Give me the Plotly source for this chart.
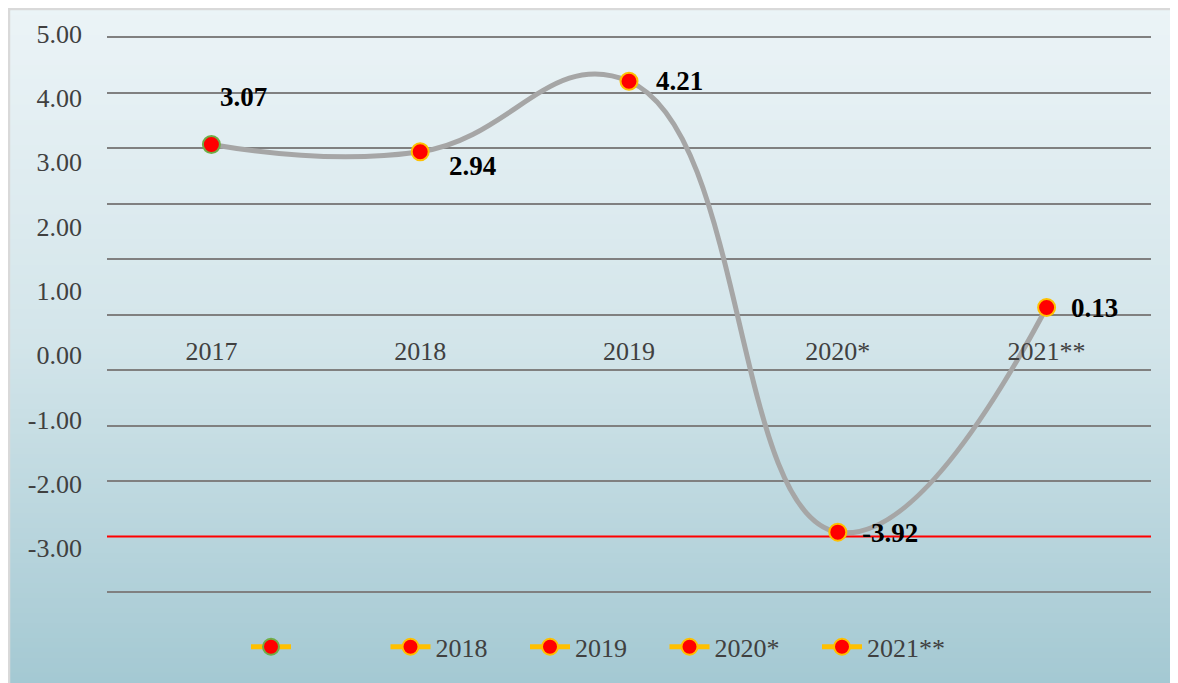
import plotly.graph_objects as go

# ---------------- data ----------------
categories = ["2017", "2018", "2019", "2020*", "2021**"]
values = [3.07, 2.94, 4.21, -3.92, 0.13]
legend_names = ["", "2018", "2019", "2020*", "2021**"]
grid_values = [5, 4, 3, 2, 1, 0, -1, -2, -3, -5]
axis_label_values = [5, 4, 3, 2, 1, 0, -1, -2, -3]
threshold = -4.0

# ---------------- styling ----------------
W, H = 1178, 683
OFF = 8  # page body margin: figure is drawn 8px right/down on screen
ML, MT = 107 - OFF, 30 - OFF
PLOT_R, PLOT_B = 1151 - OFF, 605 - OFF
MR, MB = W - PLOT_R, H - PLOT_B
PW, PH = W - ML - MR, H - MT - MB
FONT = "Liberation Serif"
TXT = "#404040"
marker_outline = ["#70AD47", "#FFC000", "#FFC000", "#FFC000", "#FFC000"]
label_shift = [(32, 48), (52, -14), (50, 0), (52, -1), (48, 0)]
legend_pad = [13, 5, 5, 5, 0]  # trailing non-breaking spaces (spacing only)


def fx(sx):  # screen px -> paper x
    return (sx - OFF - ML) / PW


def fy(sy):  # screen px -> paper y
    return (PLOT_B - (sy - OFF)) / PH


def hex2rgb(h):
    h = h.lstrip("#")
    return tuple(int(h[i:i + 2], 16) for i in (0, 2, 4))


stops = [(0, hex2rgb("#ECF4F7")), (340, hex2rgb("#D3E5EA")), (690, hex2rgb("#A3C8D2"))]


def color_at(sy):
    for (y0, c0), (y1, c1) in zip(stops[:-1], stops[1:]):
        if y0 <= sy <= y1:
            t = (sy - y0) / (y1 - y0)
            return "rgb(%d,%d,%d)" % tuple(round(a + (b - a) * t) for a, b in zip(c0, c1))
    return "rgb(%d,%d,%d)" % stops[-1][1]


fig = go.Figure()

# smooth gray line
fig.add_trace(go.Scatter(
    x=categories, y=values, mode="lines",
    line=dict(color="#A6A6A6", width=5, shape="spline", smoothing=1.3),
    showlegend=False, hoverinfo="skip",
))

# one marker trace per point (legend entries)
for cat, val, nm, oc, pad in zip(categories, values, legend_names, marker_outline, legend_pad):
    fig.add_trace(go.Scatter(
        x=[cat], y=[val], mode="lines+markers", name=nm + "\u00a0" * pad,
        line=dict(color="#FFC000", width=5),
        marker=dict(color="#FF0000", size=17, line=dict(color=oc, width=2)),
    ))

# invisible trace to hold the label axis
fig.add_trace(go.Scatter(x=[categories[0]], y=[None], yaxis="y2",
                         showlegend=False, hoverinfo="skip", mode="markers"))

shapes = []
# gradient background
sy = OFF
step = 5
while sy < H + OFF:
    shapes.append(dict(type="rect", xref="paper", yref="paper", layer="below",
                       x0=fx(0), x1=fx(W + 20), y0=fy(sy), y1=fy(sy + step + 1),
                       fillcolor=color_at(sy + step / 2), line=dict(width=0)))
    sy += step
# border
shapes.append(dict(type="rect", xref="paper", yref="paper", layer="below",
                   x0=fx(OFF + 1), x1=fx(W + 30), y0=fy(OFF - 1), y1=fy(H + 30),
                   fillcolor="rgba(0,0,0,0)", line=dict(color="#D9D9D9", width=2.5)))
# red threshold line
shapes.append(dict(type="line", xref="paper", yref="y", layer="below",
                   x0=0, x1=1, y0=threshold, y1=threshold,
                   line=dict(color="#FF0000", width=2)))

annotations = []
for i, (val, (dx, dy)) in enumerate(zip(values, label_shift)):
    annotations.append(dict(x=i, y=val, xref="x", yref="y", text="%.2f" % val,
                            showarrow=False, xanchor="center", yanchor="middle",
                            xshift=dx, yshift=dy,
                            font=dict(family=FONT, size=27, color="#000000", weight="bold")))

y_top = 5 + 5.5 / 55.65
y_bot = -5 - 13 / 55.65

fig.update_layout(
    width=W, height=H,
    margin=dict(l=ML, r=MR, t=MT, b=MB, pad=0),
    paper_bgcolor="#ECF4F7", plot_bgcolor="rgba(0,0,0,0)",
    font=dict(family=FONT, size=26, color=TXT),
    shapes=shapes, annotations=annotations,
    xaxis=dict(type="category", categoryorder="array", categoryarray=categories,
               range=[-0.5, 4.5], showgrid=False, zeroline=False, showline=False,
               ticks="", anchor="free", position=0.4748,
               tickfont=dict(family=FONT, size=26, color=TXT)),
    yaxis=dict(range=[y_bot, y_top], tickvals=grid_values, showticklabels=False,
               showgrid=True, gridcolor="#808080", gridwidth=1.5,
               zeroline=False, showline=False, ticks=""),
    yaxis2=dict(overlaying="y", side="left", range=[-3.88, 5.025],
                tickvals=axis_label_values,
                ticktext=["%.2f" % v for v in axis_label_values],
                showgrid=False, zeroline=False, showline=False, ticks="",
                ticklabelstandoff=24,
                tickfont=dict(family=FONT, size=26, color=TXT)),
    legend=dict(orientation="h", x=fx(598), xanchor="center",
                y=fy(647), yanchor="middle",
                bgcolor="rgba(0,0,0,0)", font=dict(family=FONT, size=26, color=TXT),
                itemwidth=40),
    showlegend=True,
)

fig.write_html("out.html")
